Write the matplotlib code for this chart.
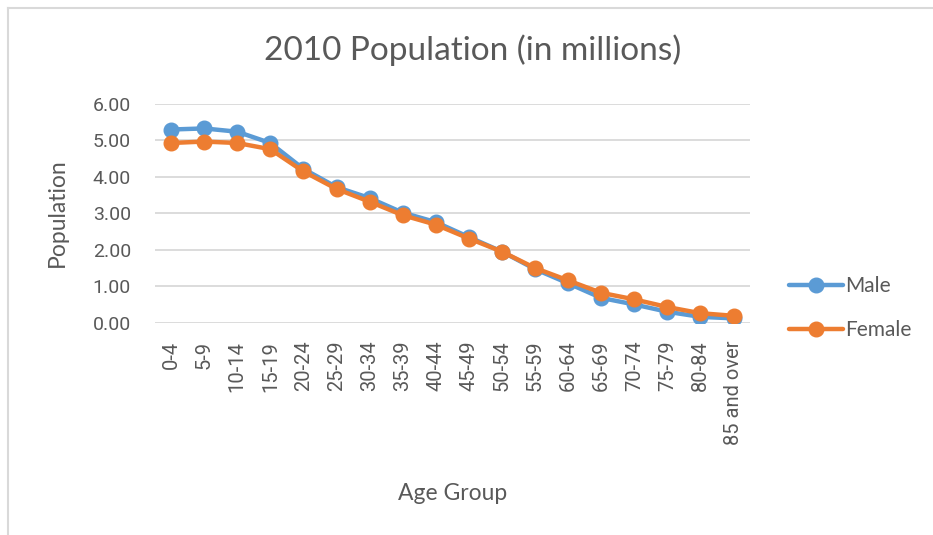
import matplotlib.pyplot as plt
from matplotlib.lines import Line2D

# 2010 population by age group (millions)
age_groups = ['0-4', '5-9', '10-14', '15-19', '20-24', '25-29', '30-34', '35-39',
              '40-44', '45-49', '50-54', '55-59', '60-64', '65-69', '70-74', '75-79',
              '80-84', '85 and over']
male = [5.30, 5.33, 5.24, 4.93, 4.22, 3.72, 3.42, 3.02, 2.76, 2.35,
        1.95, 1.47, 1.08, 0.68, 0.50, 0.30, 0.16, 0.12]
female = [4.93, 4.97, 4.93, 4.76, 4.15, 3.67, 3.32, 2.95, 2.69, 2.31,
          1.95, 1.50, 1.16, 0.82, 0.64, 0.43, 0.26, 0.19]

txt = '#595959'
narrow = ['Lato', 'DejaVu Sans']
plt.rcParams['font.family'] = ['Roboto', 'DejaVu Sans']

fig = plt.figure(figsize=(9.33, 5.35), dpi=100)
ax = fig.add_axes([0.1656, 0.3968, 0.6384, 0.4088])

x = list(range(len(age_groups)))
ax.plot(x, male, color='#5B9BD5', lw=3.2, marker='o', ms=10.5, label='Male',
        solid_capstyle='round')
ax.plot(x, female, color='#ED7D31', lw=3.2, marker='o', ms=10.5, label='Female',
        solid_capstyle='round')

ax.set_xlim(-0.5, len(age_groups) - 0.5)
ax.set_ylim(0, 6)
ax.set_yticks(range(0, 7))
ax.set_yticklabels(['%.2f' % v for v in range(0, 7)])
ax.set_xticks(x)
ax.set_xticklabels(age_groups, rotation=90)
ax.tick_params(length=0, colors=txt)
ax.tick_params(axis='y', labelsize=14, pad=17)
ax.tick_params(axis='x', labelsize=14.5, pad=13)
ax.grid(axis='y', color='#D9D9D9', lw=1.3)
ax.set_axisbelow(True)
for s in ax.spines.values():
    s.set_visible(False)

fig.text(0.507, 1 - 50 / 535, '2010 Population (in millions)', ha='center', va='center',
         fontsize=24, color=txt, family=narrow)
fig.text(57 / 933, 1 - 213 / 535, 'Population', ha='center', va='center', rotation=90,
         fontsize=16.5, color=txt, family=narrow)
fig.text(453 / 933, 1 - 493 / 535, 'Age Group', ha='center', va='center', fontsize=16.5,
         color=txt, family=narrow)

leg = fig.legend(loc='center left', bbox_to_anchor=(789 / 933, 1 - 308 / 535), frameon=False,
                 handlelength=2.6, handletextpad=0.1, labelspacing=1.15, borderpad=0,
                 borderaxespad=0, prop={'family': narrow, 'size': 15})
for t in leg.get_texts():
    t.set_color(txt)

# outer chart border (left and top visible)
fig.add_artist(Line2D([8 / 933, 8 / 933], [0, 1 - 8 / 535], color='#D9D9D9', lw=1.5))
fig.add_artist(Line2D([8 / 933, 1], [1 - 8 / 535, 1 - 8 / 535], color='#D9D9D9', lw=1.5))

fig.savefig('out.png', dpi=100)
